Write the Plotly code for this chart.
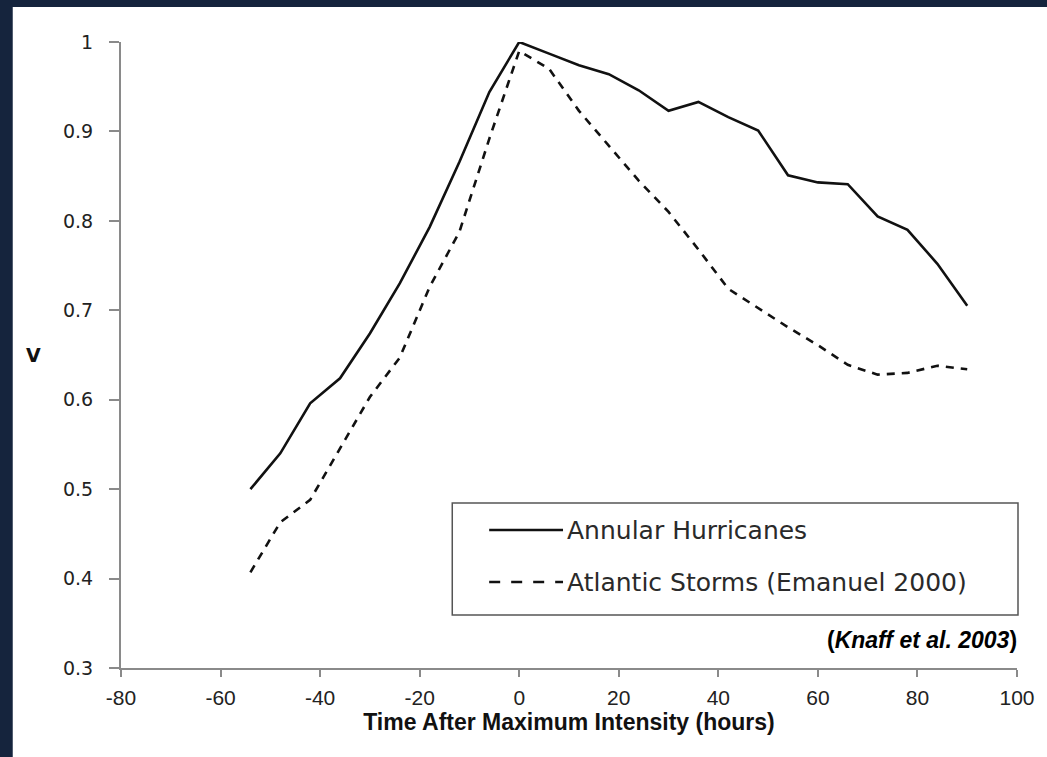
import plotly.graph_objects as go

# ---- data ----
hours = [-54, -48, -42, -36, -30, -24, -18, -12, -6, 0, 6, 12, 18, 24, 30,
         36, 42, 48, 54, 60, 66, 72, 78, 84, 90]
annular = [0.500, 0.540, 0.596, 0.624, 0.674, 0.730, 0.793, 0.866, 0.944, 1.000,
           0.987, 0.974, 0.964, 0.946, 0.923, 0.933, 0.916, 0.901, 0.851, 0.843,
           0.841, 0.805, 0.790, 0.752, 0.705]
atlantic = [0.407, 0.463, 0.488, 0.545, 0.603, 0.647, 0.726, 0.788, 0.892, 0.990,
            0.970, 0.923, 0.884, 0.845, 0.810, 0.768, 0.724, 0.702, 0.681, 0.661,
            0.639, 0.628, 0.630, 0.638, 0.634]
series_names = ["Annular Hurricanes", "Atlantic Storms (Emanuel 2000)"]
x_ticks = [-80, -60, -40, -20, 0, 20, 40, 60, 80, 100]
y_ticks = [0.3, 0.4, 0.5, 0.6, 0.7, 0.8, 0.9, 1.0]
y_tick_labels = ["0.3", "0.4", "0.5", "0.6", "0.7", "0.8", "0.9", "1"]
x_title = "Time After Maximum Intensity (hours)"
y_title = "V"
source_note = "(<i>Knaff et al. 2003</i>)"

W, H = 1047, 757
L, R, T, B = 121, 28, 42, 89
PW, PH = W - L - R, H - T - B
BG = "#15243d"


def px(x):
    return (x - L) / PW


def py(y):
    return (H - B - y) / PH


fig = go.Figure()
fig.add_trace(go.Scatter(x=hours, y=annular, mode="lines", name=series_names[0],
                         line=dict(color="#111111", width=2.6), showlegend=False))
fig.add_trace(go.Scatter(x=hours, y=atlantic, mode="lines", name=series_names[1],
                         line=dict(color="#111111", width=2.6, dash="8px,7px"),
                         showlegend=False))

shapes = [
    # white slide panel over dark background
    dict(type="rect", xref="paper", yref="paper", x0=px(12.5), x1=px(W + 5),
         y0=py(H + 5), y1=py(7), fillcolor="white", line=dict(width=0), layer="below"),
    # legend box
    dict(type="rect", xref="paper", yref="paper", x0=px(453), x1=px(1020),
         y0=py(615), y1=py(503), fillcolor="rgba(0,0,0,0)",
         line=dict(color="#555555", width=1.5)),
    # legend samples
    dict(type="line", xref="paper", yref="paper", x0=px(490), x1=px(564),
         y0=py(530), y1=py(530), line=dict(color="#111111", width=2.6)),
    dict(type="line", xref="paper", yref="paper", x0=px(490), x1=px(564),
         y0=py(582), y1=py(582), line=dict(color="#111111", width=2.6, dash="11px,11px")),
]

annotations = [
    dict(xref="paper", yref="paper", x=px(566), y=py(530), text=series_names[0],
         showarrow=False, xanchor="left", yanchor="middle",
         font=dict(family="DejaVu Sans", size=25, color="#2a2a2a")),
    dict(xref="paper", yref="paper", x=px(566), y=py(582), text=series_names[1],
         showarrow=False, xanchor="left", yanchor="middle",
         font=dict(family="DejaVu Sans", size=25, color="#2a2a2a")),
    dict(xref="paper", yref="paper", x=px(1021), y=py(640), text=source_note,
         showarrow=False, xanchor="right", yanchor="middle",
         font=dict(family="Liberation Sans, Arial", size=23, color="#000000", weight="bold")),
    # y-axis title (upright, as in the reference)
    dict(xref="paper", yref="paper", x=px(33), y=py(355), text="<b>" + y_title + "</b>",
         showarrow=False, xanchor="center", yanchor="middle",
         font=dict(family="DejaVu Sans", size=19, color="#111111")),
]

fig.update_layout(
    width=W, height=H,
    margin=dict(l=L, r=R, t=T, b=B, pad=0),
    paper_bgcolor=BG,
    plot_bgcolor="white",
    shapes=shapes,
    annotations=annotations,
    showlegend=False,
)

fig.update_xaxes(
    range=[-80, 100], tickvals=x_ticks, ticktext=[str(v) for v in x_ticks],
    showgrid=False, zeroline=False, showline=True, linecolor="#8a8a8a", linewidth=2,
    ticks="outside", ticklen=7, tickcolor="#8a8a8a", tickwidth=1.5,
    ticklabelstandoff=3,
    tickfont=dict(family="Liberation Sans, Arial", size=21, color="#222222"),
    title=dict(text="<b>" + x_title + "</b>", standoff=0,
               font=dict(family="Liberation Sans, Arial", size=23, color="#111111")),
)
fig.update_yaxes(
    range=[0.3, 1.0], tickvals=y_ticks, ticktext=y_tick_labels,
    showgrid=False, zeroline=False, showline=True, linecolor="#8a8a8a", linewidth=2,
    ticks="outside", ticklen=10, tickcolor="#8a8a8a", tickwidth=1.5,
    ticklabelstandoff=12,
    tickfont=dict(family="DejaVu Sans", size=19, color="#222222"),
)

fig.write_html(
    "out.html",
    config={"displayModeBar": False},
    post_script="document.body.style.margin='0';document.body.style.background='" + BG + "';",
)
